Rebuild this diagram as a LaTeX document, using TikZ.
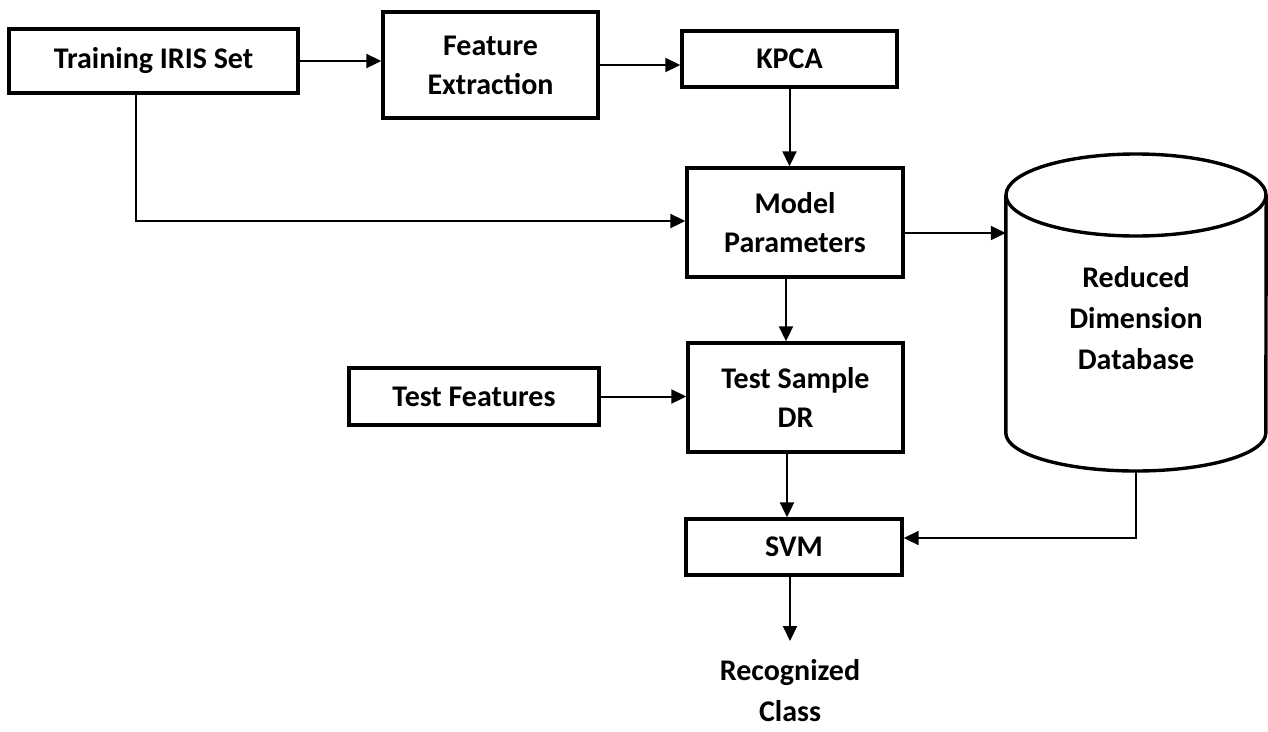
\documentclass[tikz,border=0pt]{standalone}
\usepackage{fontspec}
\setmainfont{Carlito}
\usetikzlibrary{arrows.meta,calc}
\begin{document}
\begin{tikzpicture}[x=1pt,y=-1pt,
  box/.style={draw, line width=3.4pt, align=center, inner sep=0pt,
    font=\fontsize{30}{39}\selectfont\bfseries},
  plain/.style={align=center, inner sep=0pt, font=\fontsize{30}{41}\selectfont\bfseries},
  arr/.style={line width=2pt, -{Triangle[length=15pt,width=14pt]}},
  ln/.style={line width=2pt}]
\useasboundingbox (0,0) rectangle (1268,731);
\node[box, minimum width=289pt, minimum height=64pt] (train) at (153.5,61) {Training IRIS Set};
\node[box, minimum width=215pt, minimum height=106pt] (feat) at (490.5,65) {Feature\\Extraction};
\node[box, minimum width=215pt, minimum height=56pt] (kpca) at (789.5,59) {KPCA};
\node[box, minimum width=216pt, minimum height=109pt] (model) at (795,222.5) {Model\\Parameters};
\node[box, minimum width=250pt, minimum height=57pt] (tf) at (474,396.5) {Test Features};
\node[box, minimum width=215pt, minimum height=109pt] (ts) at (795.5,397.5) {Test Sample\\DR};
\node[box, minimum width=216pt, minimum height=56pt] (svm) at (794,547) {SVM};
\node[plain] (out) at (790,691) {Recognized\\Class};
% database cylinder
\node[plain, minimum width=260pt, minimum height=306pt] (db) at (1136,318) {Reduced\\Dimension\\Database};
\draw[line width=3.4pt] (db.west |- 0,195) -- (db.west |- 0,433)
  arc[start angle=180, end angle=0, x radius=130, y radius=38]
  -- (db.east |- 0,195);
\draw[line width=3.4pt] (1136,195) ellipse [x radius=130, y radius=41];
\coordinate (tip) at (790,641);
% connectors
\draw[arr] (train.east) -- (train.east -| feat.west);
\draw[arr] (feat.east) -- (feat.east -| kpca.west);
\draw[arr] (kpca.south) -- (kpca.south |- model.north);
\draw[arr] ([xshift=-18pt]train.south) |- ([yshift=1.5pt]model.west);
\draw[arr] ([yshift=-10.5pt]model.east) -- ([yshift=-10.5pt]model.east -| db.west);
\draw[arr] ([xshift=-9pt]model.south) -- ([xshift=-9pt]model.south |- ts.north);
\draw[arr] (tf.east) -- (tf.east -| ts.west);
\draw[arr] ([xshift=-8.5pt]ts.south) -- ([xshift=-8.5pt]ts.south |- svm.north);
\draw[arr] (db.south) |- ([yshift=9pt]svm.east);
\draw[arr] (svm.south -| tip) -- (tip);
\end{tikzpicture}
\end{document}
